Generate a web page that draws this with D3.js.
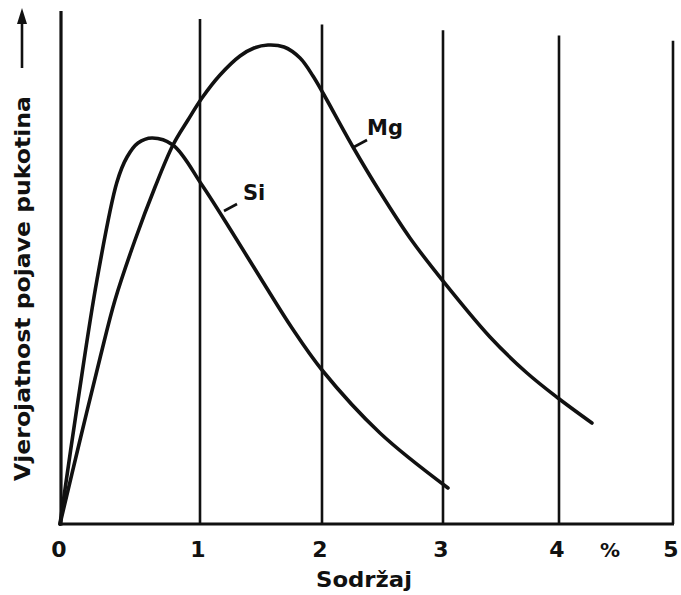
<!DOCTYPE html>
<html>
<head>
<meta charset="utf-8">
<script src="https://cdn.jsdelivr.net/npm/d3@7"></script>
<style>
  html, body { margin: 0; padding: 0; background: #fff; }
  svg { display: block; }
  text { font-family: "DejaVu Sans", sans-serif; font-weight: bold; fill: #111; }
</style>
</head>
<body>
<svg id="chart" width="681" height="595"></svg>
<script>
// ---- data ----
const xTicks = [0, 1, 2, 3, 4, 5];
const xTickLabels = ["0", "1", "2", "3", "4", "5"];
const unitLabel = "%";
const xTitle = "Sodržaj";
const yTitle = "Vjerojatnost pojave pukotina";

const mgX = [0, 0.143, 0.286, 0.393, 0.536, 0.679, 0.807, 0.914, 1.016, 1.164, 1.328, 1.443, 1.557, 1.689, 1.82, 1.926, 2.008, 2.256, 2.479, 2.727, 3.0, 3.405, 3.724, 3.991, 4.289];
const mgY = [0, 16.8, 33.2, 44.8, 56.8, 67.4, 75.8, 80.8, 85.2, 89.8, 93.6, 95.2, 95.8, 95.4, 93.2, 89.6, 86.2, 75.4, 66.4, 57.2, 48.6, 37.4, 30.2, 25.2, 20.2];

const siX = [0, 0.129, 0.264, 0.407, 0.479, 0.557, 0.657, 0.807, 1.016, 1.262, 1.516, 1.754, 2.0, 2.479, 3.043];
const siY = [0, 24.8, 48.8, 68.4, 73.4, 76.2, 77.2, 75.8, 67.8, 58.4, 48.4, 39.2, 30.8, 18.2, 7.2];

const seriesNames = ["Si", "Mg"];

// ---- layout ----
const svg = d3.select("#chart");
const x = d3.scaleLinear().domain([0, 1, 2, 3, 4, 5]).range([60, 200, 322, 443, 559, 673]);
const y = d3.scaleLinear().domain([0, 100]).range([524, 24]);

// vertical grid lines (x = 1..5), slightly varying tops like the scan
const gridTop = px => 13 + (px - 70) * 0.046;
svg.append("g").selectAll("line").data(xTicks.slice(1)).join("line")
  .attr("x1", d => x(d)).attr("x2", d => x(d))
  .attr("y1", y(0)).attr("y2", d => gridTop(x(d)))
  .attr("stroke", "#111").attr("stroke-width", 2.6);

// left axis
svg.append("line")
  .attr("x1", x(0) + 1).attr("x2", x(0) + 1)
  .attr("y1", y(0) + 1.5).attr("y2", 11)
  .attr("stroke", "#111").attr("stroke-width", 3.2);

// bottom axis line
svg.append("line")
  .attr("x1", x(0) - 1).attr("x2", x(5) + 1)
  .attr("y1", y(0)).attr("y2", y(0))
  .attr("stroke", "#111").attr("stroke-width", 3.2);

// tick labels
svg.append("g").selectAll("text").data(xTicks).join("text")
  .attr("x", d => x(d) - (d === 0 ? 1 : 2)).attr("y", 557)
  .attr("text-anchor", "middle").attr("font-size", 22)
  .text((d, i) => xTickLabels[i]);

svg.append("text")
  .attr("x", 610).attr("y", 557).attr("text-anchor", "middle")
  .attr("font-size", 20).text(unitLabel);

// x title
svg.append("text")
  .attr("x", 364).attr("y", 587).attr("text-anchor", "middle")
  .attr("font-size", 22).attr("textLength", 96).attr("lengthAdjust", "spacingAndGlyphs")
  .text(xTitle);

// y title (rotated) + arrow
svg.append("text")
  .attr("transform", "translate(30,481) rotate(-90)")
  .attr("text-anchor", "start").attr("font-size", 21)
  .attr("textLength", 385).attr("lengthAdjust", "spacingAndGlyphs")
  .text(yTitle);
svg.append("line")
  .attr("x1", 22).attr("x2", 22).attr("y1", 68).attr("y2", 20)
  .attr("stroke", "#111").attr("stroke-width", 2.6);
svg.append("path")
  .attr("d", "M22,8 L17,24 L27,24 Z").attr("fill", "#111");

// curves
const line = d3.line()
  .x(d => x(d[0])).y(d => y(d[1]))
  .curve(d3.curveCatmullRom.alpha(0.5));

const mgData = mgX.map((v, i) => [v, mgY[i]]);
const siData = siX.map((v, i) => [v, siY[i]]);

svg.append("g").selectAll("path").data([siData, mgData]).join("path")
  .attr("d", line)
  .attr("fill", "none").attr("stroke", "#111")
  .attr("stroke-width", 3.6).attr("stroke-linecap", "round").attr("stroke-linejoin", "round");

// series labels with leader ticks
const labels = [
  { name: seriesNames[0], px: 224, py: 211, tx: 243, ty: 200 },
  { name: seriesNames[1], px: 354, py: 147, tx: 367, ty: 135 }
];
labels.forEach(l => {
  svg.append("line")
    .attr("x1", l.px).attr("y1", l.py).attr("x2", l.px + 13).attr("y2", l.py - 7)
    .attr("stroke", "#111").attr("stroke-width", 2.6);
  svg.append("text").attr("x", l.tx).attr("y", l.ty)
    .attr("font-size", 21).text(l.name);
});
</script>
</body>
</html>
